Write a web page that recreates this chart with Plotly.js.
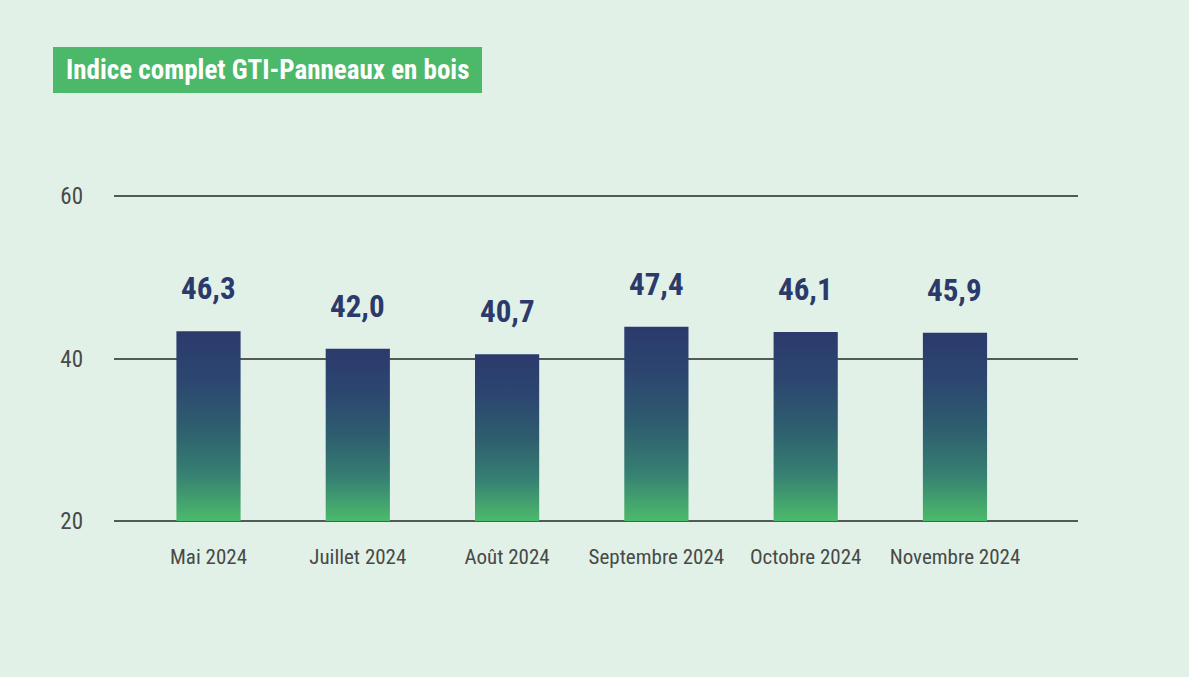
<!DOCTYPE html>
<html>
<head>
<meta charset="utf-8">
<script src="https://cdn.plot.ly/plotly-3.0.1.min.js"></script>
<style>
  html, body { margin: 0; padding: 0; background: #e2f1e7; }
  #chart { width: 1189px; height: 677px; }
</style>
</head>
<body>
<div id="chart"></div>
<script>
// ---- Data ----
const categories = ['Mai 2024', 'Juillet 2024', 'Août 2024', 'Septembre 2024', 'Octobre 2024', 'Novembre 2024'];
const indexValues = [46.3, 42.0, 40.7, 47.4, 46.1, 45.9];
const yTickValues = [20, 40, 60];
const chartTitle = 'Indice complet GTI-Panneaux en bois';

// ---- Styles / geometry ----
const FONT = '"Roboto Condensed", "Open Sans Condensed", "Liberation Sans", sans-serif';
const NAVY = '#2b3a6b';
const GRID = '#515a55';
const BG = '#e2f1e7';
const W = 1189, H = 677;
const PLOT_TOP = 190, PLOT_BOTTOM = 530, PLOT_LEFT = 114, PLOT_RIGHT = 1078;
const BASE_PX = 521;          // pixel row of the lowest gridline / bar base
const TICK_PX_PER_UNIT = 8.125;
const BAR_PX_PER_UNIT = 4.1;

const fmt = v => v.toFixed(1).replace('.', ',');

const barTrace = {
  type: 'bar',
  x: categories,
  y: indexValues,
  yaxis: 'y2',
  width: 0.43,
  marker: { color: NAVY, line: { width: 0 } },
  hoverinfo: 'x+y',
  showlegend: false
};

// empty trace so that the tick/grid axis (y) is drawn
const axisTrace = {
  type: 'scatter', x: [], y: [], xaxis: 'x', yaxis: 'y',
  mode: 'markers', showlegend: false, hoverinfo: 'skip'
};

const annotations = categories.map((c, i) => ({
  x: c,
  y: indexValues[i],
  xref: 'x',
  yref: 'y2',
  text: '<b>' + fmt(indexValues[i]) + '</b>',
  showarrow: false,
  yanchor: 'bottom',
  yshift: 22,
  font: { family: FONT, size: 31, color: NAVY }
}));

const plotW = PLOT_RIGHT - PLOT_LEFT, plotH = PLOT_BOTTOM - PLOT_TOP;

const layout = {
  width: W,
  height: H,
  paper_bgcolor: BG,
  plot_bgcolor: 'rgba(0,0,0,0)',
  margin: { l: PLOT_LEFT, r: W - PLOT_RIGHT, t: PLOT_TOP, b: H - PLOT_BOTTOM, pad: 0 },
  title: {
    text: '<b>' + chartTitle + '</b>',
    font: { family: FONT, size: 27, color: '#ffffff' },
    x: 66 / W,
    xref: 'container',
    xanchor: 'left',
    y: 1 - 70 / H,
    yref: 'container',
    yanchor: 'middle'
  },
  shapes: [{
    type: 'rect',
    xref: 'paper', yref: 'paper',
    x0: (53 - PLOT_LEFT) / plotW, x1: (482 - PLOT_LEFT) / plotW,
    y0: (PLOT_BOTTOM - 93) / plotH, y1: (PLOT_BOTTOM - 47) / plotH,
    fillcolor: '#4cb96a',
    line: { width: 0 },
    layer: 'below'
  }],
  xaxis: {
    type: 'category',
    range: [-0.633, 5.824],
    showgrid: false,
    zeroline: false,
    showline: false,
    ticks: '',
    tickangle: 0,
    ticklabelstandoff: 20 - (PLOT_BOTTOM - 522),
    tickfont: { family: FONT, size: 21, color: '#474a48' },
    fixedrange: true
  },
  yaxis: {
    range: [20 - (PLOT_BOTTOM - BASE_PX) / TICK_PX_PER_UNIT, 20 + (BASE_PX - PLOT_TOP) / TICK_PX_PER_UNIT],
    tickvals: yTickValues,
    ticktext: yTickValues.map(String),
    showgrid: true,
    gridcolor: GRID,
    gridwidth: 2,
    zeroline: false,
    showline: false,
    ticks: '',
    ticklabelstandoff: 30,
    tickfont: { family: FONT, size: 23, color: '#474a48' },
    fixedrange: true
  },
  yaxis2: {
    overlaying: 'y',
    range: [-(PLOT_BOTTOM - BASE_PX) / BAR_PX_PER_UNIT, (BASE_PX - PLOT_TOP) / BAR_PX_PER_UNIT],
    visible: false,
    fixedrange: true
  },
  annotations: annotations
};

Plotly.newPlot('chart', [axisTrace, barTrace], layout, { displayModeBar: false, staticPlot: true }).then(gd => {
  // vertical navy-to-green gradient on each bar
  const svg = gd.querySelector('svg.main-svg');
  const NS = 'http://www.w3.org/2000/svg';
  let defs = svg.querySelector('defs');
  if (!defs) { defs = document.createElementNS(NS, 'defs'); svg.insertBefore(defs, svg.firstChild); }
  const grad = document.createElementNS(NS, 'linearGradient');
  grad.setAttribute('id', 'barGrad');
  grad.setAttribute('x1', '0'); grad.setAttribute('y1', '0');
  grad.setAttribute('x2', '0'); grad.setAttribute('y2', '1');
  [[0, '#2b3a6c'], [0.25, '#2c4670'], [0.5, '#2e5d6e'], [0.75, '#367f72'], [1, '#4cba6b']].forEach(([o, c]) => {
    const s = document.createElementNS(NS, 'stop');
    s.setAttribute('offset', o);
    s.setAttribute('stop-color', c);
    grad.appendChild(s);
  });
  defs.appendChild(grad);
  gd.querySelectorAll('.trace.bars .point path').forEach(p => {
    p.style.fill = 'url(#barGrad)';
  });
});
</script>
</body>
</html>
